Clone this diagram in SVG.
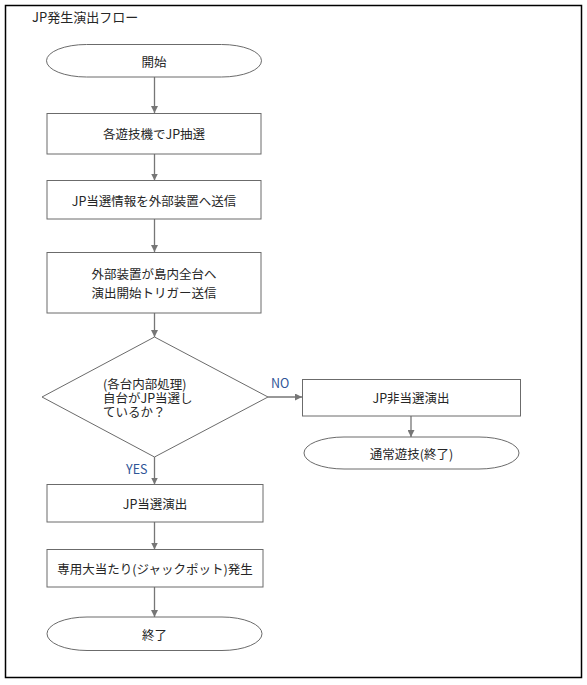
<svg xmlns="http://www.w3.org/2000/svg" width="587" height="685" viewBox="0 0 587 685">
<defs>
<marker id="ah" viewBox="0 0 10 10" refX="10" refY="5" markerWidth="7" markerHeight="7" markerUnits="userSpaceOnUse" orient="auto">
<path d="M0,0 L10,5 L0,10 z" fill="#767676"/>
</marker>
<style>
.t{font-family:"Noto Sans CJK JP","Liberation Sans",sans-serif;font-size:12.5px;fill:#262626;}
.c{text-anchor:middle;dominant-baseline:central;}
.lbl{font-family:"Noto Sans CJK JP","Liberation Sans",sans-serif;font-size:12.5px;fill:#2F5597;dominant-baseline:central;}
.shp{fill:#fff;stroke:#6b6b6b;stroke-width:1;}
.con{fill:none;stroke:#767676;stroke-width:1.3;marker-end:url(#ah);}
</style>
</defs>
<rect x="0" y="0" width="587" height="685" fill="#fff"/>
<rect x="5.5" y="5.5" width="576" height="672" fill="none" stroke="#000" stroke-width="1.5"/>
<text class="t" x="32" y="16" style="font-size:13px;dominant-baseline:central;">JP発生演出フロー</text>

<g id="connectors">
<line class="con" x1="154.5" y1="77" x2="154.5" y2="113"/>
<line class="con" x1="154.5" y1="154" x2="154.5" y2="180.5"/>
<line class="con" x1="154.5" y1="219" x2="154.5" y2="252"/>
<line class="con" x1="154.5" y1="313" x2="154.5" y2="337"/>
<line class="con" x1="154.5" y1="457" x2="154.5" y2="484.5"/>
<line class="con" x1="154.5" y1="522" x2="154.5" y2="549.5"/>
<line class="con" x1="154.5" y1="587" x2="154.5" y2="617"/>
<line class="con" x1="268" y1="397" x2="302" y2="397"/>
<line class="con" x1="411" y1="416" x2="411" y2="437"/>
<text class="lbl" x="271" y="382">NO</text>
<text class="lbl" x="126" y="468">YES</text>
</g>

<g id="start">
<rect class="shp" x="46.5" y="44.5" width="215" height="32.5" rx="40" ry="16.25"/>
<text class="t c" x="154" y="61">開始</text>
</g>
<g id="lottery">
<rect class="shp" x="47" y="113.5" width="214" height="40.5"/>
<text class="t c" x="154" y="133.5">各遊技機でJP抽選</text>
</g>
<g id="send">
<rect class="shp" x="47" y="180.5" width="214" height="38.5"/>
<text class="t c" x="154" y="200">JP当選情報を外部装置へ送信</text>
</g>
<g id="trigger">
<rect class="shp" x="47" y="252.5" width="214" height="60.5"/>
<text class="t c" x="154" y="273"><tspan x="154" y="273">外部装置が島内全台へ</tspan><tspan x="154" y="292">演出開始トリガー送信</tspan></text>
</g>
<g id="decision">
<polygon class="shp" points="154.5,337 268,397 154.5,457 42,397"/>
<text class="t" x="103" y="383" style="dominant-baseline:central;"><tspan x="103" y="383">(各台内部処理)</tspan><tspan x="103" y="397">自台がJP当選し</tspan><tspan x="103" y="411">ているか？</tspan></text>
</g>
<g id="win">
<rect class="shp" x="47" y="484.5" width="216" height="37.5"/>
<text class="t c" x="155" y="503">JP当選演出</text>
</g>
<g id="jackpot">
<rect class="shp" x="47" y="549.5" width="216" height="37.5"/>
<text class="t c" x="155" y="568">専用大当たり(ジャックポット)発生</text>
</g>
<g id="end">
<rect class="shp" x="47" y="617" width="215" height="33.5" rx="40" ry="16.75"/>
<text class="t c" x="154.5" y="634">終了</text>
</g>
<g id="lose">
<rect class="shp" x="302.5" y="379.5" width="218" height="36.5"/>
<text class="t c" x="411" y="397.5">JP非当選演出</text>
</g>
<g id="normal">
<rect class="shp" x="304" y="437" width="215" height="32" rx="40" ry="16"/>
<text class="t c" x="411.5" y="453">通常遊技(終了)</text>
</g>
</svg>
